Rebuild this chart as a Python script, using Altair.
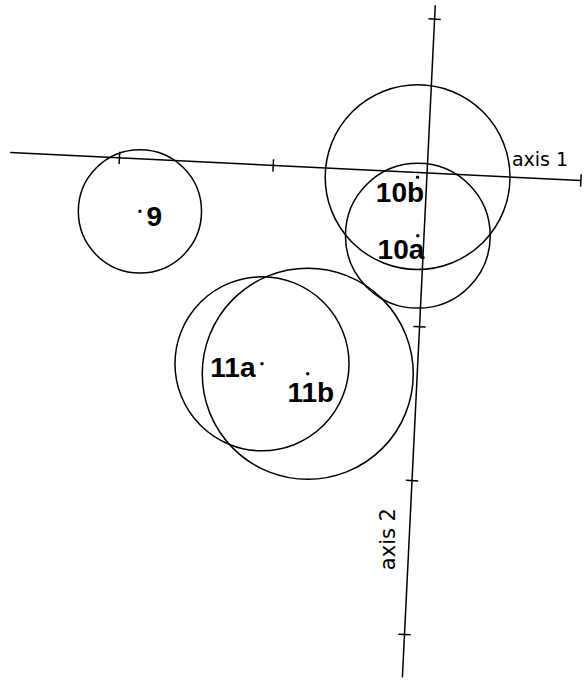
import math

import altair as alt
import pandas as pd

# Group centroids on the two ordination axes and the radius of each group circle
groups = ["9", "10b", "10a", "11a", "11b"]
axis1_score = [-1.85, -0.06, -0.04, -1.01, -0.71]
axis2_score = [-0.34, -0.03, -0.41, -1.29, -1.34]
radius = [0.40, 0.60, 0.47, 0.565, 0.685]

# Extent of the drawn axes and their tick marks (axis units)
axis1_span = [-2.71, 1.00]
axis2_span = [-3.28, 1.09]
axis1_ticks = [-2, -1, 1]
axis2_ticks = [1, -1, -2, -3]

# Layout / style
W, H = 584, 682
X_DOMAIN = [-2.773, 1.019]
Y_DOMAIN = [-3.305, 1.123]
PX_PER_UNIT = W / (X_DOMAIN[1] - X_DOMAIN[0])
TILT_DEG = 2.8          # the axis frame is slightly rotated on the page
TICK_HALF = 0.04
LINE_W = 1.5

cos_t = math.cos(math.radians(TILT_DEG))
sin_t = math.sin(math.radians(TILT_DEG))


def rot_x(a, b):
    return f"datum.{a}*{cos_t} + datum.{b}*{sin_t}"


def rot_y(a, b):
    return f"-datum.{a}*{sin_t} + datum.{b}*{cos_t}"


group_df = pd.DataFrame(
    {"group": groups, "t1": axis1_score, "t2": axis2_score, "r": radius}
)

# Axis lines plus tick marks as segments (start a1,b1 -> end a2,b2)
seg_rows = [
    {"a1": axis1_span[0], "b1": 0, "a2": axis1_span[1], "b2": 0},
    {"a1": 0, "b1": axis2_span[0], "a2": 0, "b2": axis2_span[1]},
]
seg_rows += [{"a1": k, "b1": -TICK_HALF, "a2": k, "b2": TICK_HALF} for k in axis1_ticks]
seg_rows += [{"a1": -TICK_HALF, "b1": k, "a2": TICK_HALF, "b2": k} for k in axis2_ticks]
seg_df = pd.DataFrame(seg_rows)

x_scale = alt.Scale(domain=X_DOMAIN, nice=False, zero=False)
y_scale = alt.Scale(domain=Y_DOMAIN, nice=False, zero=False)
xenc = alt.X("X:Q", scale=x_scale, axis=None)
yenc = alt.Y("Y:Q", scale=y_scale, axis=None)

segments = (
    alt.Chart(seg_df)
    .transform_calculate(
        X=rot_x("a1", "b1"), Y=rot_y("a1", "b1"),
        X2=rot_x("a2", "b2"), Y2=rot_y("a2", "b2"),
    )
    .mark_rule(color="black", strokeWidth=LINE_W)
    .encode(x=xenc, y=yenc, x2="X2:Q", y2="Y2:Q")
)

placed = alt.Chart(group_df).transform_calculate(X=rot_x("t1", "t2"), Y=rot_y("t1", "t2"))

circles = (
    placed.transform_calculate(diam=f"pow(2*datum.r*{PX_PER_UNIT}, 2)")
    .mark_point(shape="circle", filled=False, color="black", strokeWidth=LINE_W, opacity=1)
    .encode(x=xenc, y=yenc, size=alt.Size("diam:Q", scale=None, legend=None))
)

dots = placed.mark_circle(size=12, color="black", opacity=1).encode(x=xenc, y=yenc)

label_style = {
    "9": dict(align="left", dx=6.5, dy=15),
    "10b": dict(align="right", dx=6.5, dy=25),
    "10a": dict(align="right", dx=6.5, dy=23),
    "11a": dict(align="right", dx=-6.5, dy=13),
    "11b": dict(align="center", dx=3, dy=28),
}
labels = [
    placed.transform_filter(alt.datum.group == g)
    .mark_text(font="Liberation Sans", fontSize=28, fontWeight="bold",
               baseline="alphabetic", color="black", **st)
    .encode(x=xenc, y=yenc, text="group:N")
    for g, st in label_style.items()
]

titles_df = pd.DataFrame(
    {"name": ["axis 1", "axis 2"], "t1": [axis1_span[1], 0.0], "t2": [0.0, -2.38]}
)
titles = alt.Chart(titles_df).transform_calculate(X=rot_x("t1", "t2"), Y=rot_y("t1", "t2"))
axis1_title = (
    titles.transform_filter(alt.datum.name == "axis 1")
    .mark_text(font="DejaVu Sans", fontSize=19, align="left", baseline="alphabetic",
               dx=-69, dy=-14, color="black")
    .encode(x=xenc, y=yenc, text="name:N")
)
axis2_title = (
    titles.transform_filter(alt.datum.name == "axis 2")
    .mark_text(font="DejaVu Sans", fontSize=21, align="center", baseline="middle",
               angle=270, dy=-20, color="black")
    .encode(x=xenc, y=yenc, text="name:N")
)

chart = (
    alt.layer(segments, circles, dots, *labels, axis1_title, axis2_title)
    .properties(width=W, height=H, padding=0, autosize="none", background="white")
    .configure_view(strokeWidth=0)
)

chart.save("out.html", embed_options={"renderer": "svg", "actions": False})
